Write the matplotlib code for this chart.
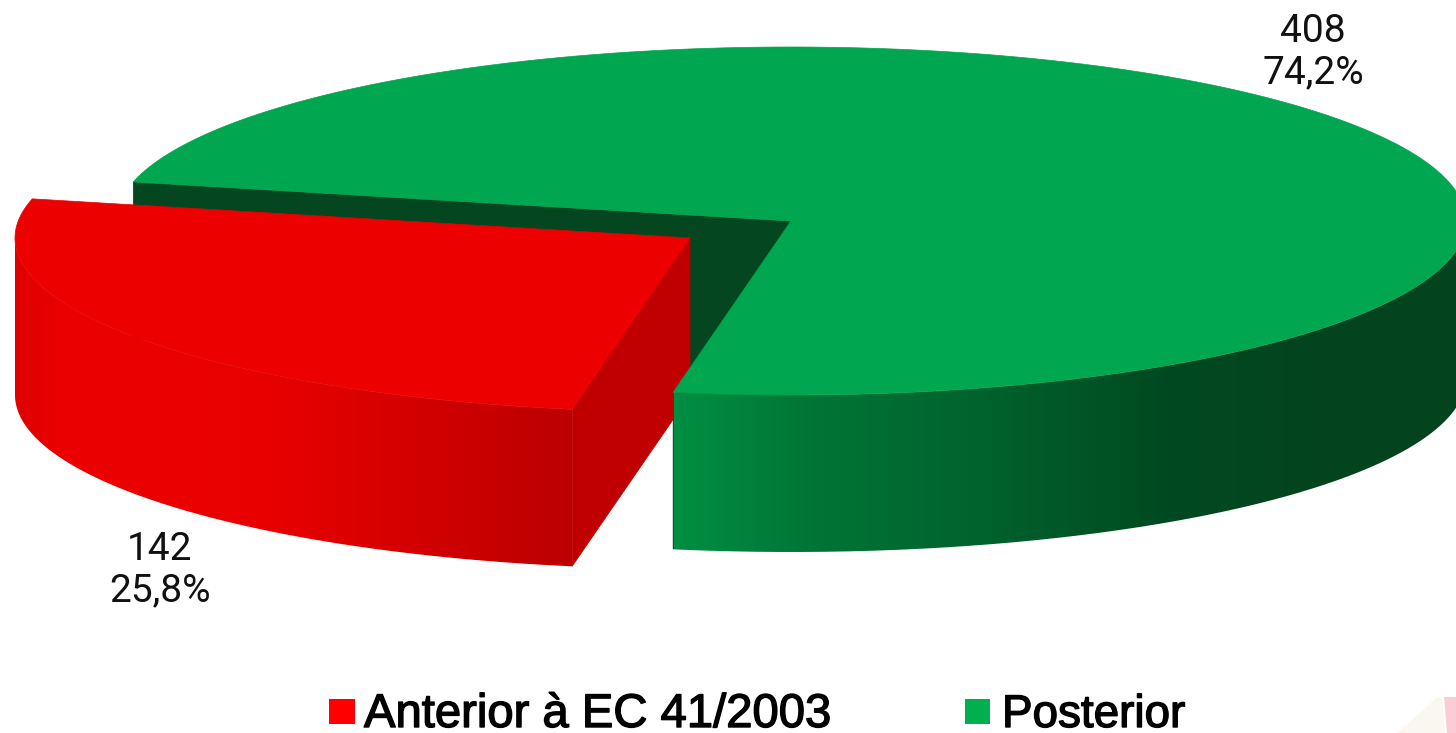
import numpy as np
import matplotlib
matplotlib.use('Agg')
import matplotlib.pyplot as plt
import matplotlib.patheffects as pe
from matplotlib.colors import LinearSegmentedColormap
from matplotlib.patches import PathPatch, Polygon, Rectangle
from matplotlib.path import Path

### data ###
categories = ['Anterior à EC 41/2003', 'Posterior']
counts = [142, 408]

### plotting parameters ###
W, H = 1456, 733
start_angle = 167.0
center_green = (791, 221)
center_red = (690, 238)
rx, ry = 675, 174
depth = 157
col_top = ['#EC0000', '#00A650']
col_leg = ['#FF0000', '#00B050']
col_cut = ['#C00000', '#03461F']
fs_label = 28
fs_leg = 34

plt.rcParams['font.family'] = ['Liberation Sans', 'DejaVu Sans']

### functions ###
def arc(c, a0, a1, dy=0):
	t = np.radians(np.linspace(a0, a1, 300))
	return np.column_stack([c[0] + rx*np.cos(t), c[1] - ry*np.sin(t) + dy])

def sector(c, a0, a1):
	return np.vstack([[c], arc(c, a0, a1)])

def side(c, a0, a1):
	return np.vstack([arc(c, a0, a1), arc(c, a1, a0, depth)])

def grad_side(ax, pts, stops, x0, x1):
	cm = LinearSegmentedColormap.from_list('g', stops)
	img = ax.imshow(np.linspace(0, 1, 512).reshape(1, -1), extent=[x0, x1, H, 0], cmap=cm, aspect='auto', zorder=ax_z[0])
	img.set_clip_path(PathPatch(Path(pts), transform=ax.transData))
	ax_z[0] += 1

def lab(v):
	return '%d\n%s%%' % (v, ('%.1f' % (100*v/total)).replace('.', ','))

### program ###
fig = plt.figure(figsize=(W/100, H/100), dpi=100)
ax = fig.add_axes([0, 0, 1, 1])
ax_z = [1]

total = float(sum(counts))
a_red0 = start_angle
a_red1 = start_angle + 360*counts[0]/total
a_green1 = start_angle + 360

# green cut faces
c = np.array(center_green)
for a in [a_green1, a_red1]:
	p = arc(c, a, a)[0]
	ax.add_patch(Polygon([c, p, p + [0, depth], c + [0, depth]], closed=True, fc=col_cut[1], ec=col_cut[1], lw=0.5, zorder=0.5))

# red slice, the outer wall only starts at the leftmost point of the ellipse
c = np.array(center_red)
p = arc(c, a_red1, a_red1)[0]
grad_side(ax, side(c, 180, a_red1), [(0, '#E00000'), (0.08, '#EA0000'), (0.25, '#EC0000'), (0.455, '#E80000'), (0.59, '#DE0000'), (0.8, '#CC0000'), (1, '#BC0000')], 14, 572)
ax.add_patch(Polygon([c, p, p + [0, depth], c + [0, depth]], closed=True, fc=col_cut[0], ec=col_cut[0], lw=0.5, zorder=ax_z[0]))
ax.add_patch(Polygon(sector(c, a_red0, a_red1), closed=True, fc=col_top[0], ec=col_top[0], lw=0.5, zorder=ax_z[0]+1))
ax_z[0] += 2

# green slice
c = np.array(center_green)
grad_side(ax, side(c, a_red1, 360), [(0, '#008F42'), (0.175, '#007535'), (0.37, '#00642E'), (0.62, '#004A21'), (0.8, '#03441E'), (1, '#03441E')], 674, 1466)
ax.add_patch(Polygon(sector(c, a_red1, a_green1), closed=True, fc=col_top[1], ec=col_top[1], lw=0.5, zorder=ax_z[0]))
ax_z[0] += 1

# data labels
ax.text(160, 570, lab(counts[0]), fontsize=fs_label, family=['Roboto', 'DejaVu Sans'], ha='center', va='center', ma='center', linespacing=1.15, color='#111111', zorder=20)
ax.text(1313, 52, lab(counts[1]), fontsize=fs_label, family=['Roboto', 'DejaVu Sans'], ha='center', va='center', ma='center', linespacing=1.15, color='#111111', zorder=20)

# legend
ax.add_patch(Rectangle((329, 699), 26, 25, fc=col_leg[0], ec='none', zorder=20))
ax.add_patch(Rectangle((965, 699), 25, 25, fc=col_leg[1], ec='none', zorder=20))
heavy = [pe.withStroke(linewidth=1.0, foreground='k')]
ax.text(364, 727, categories[0], fontsize=fs_leg, ha='left', va='baseline', color='k', zorder=20, path_effects=heavy)
ax.text(1002, 727, categories[1], fontsize=fs_leg*0.97, ha='left', va='baseline', color='k', zorder=20, path_effects=heavy)

# leftovers of the slide behind the chart
ax.add_patch(Polygon([(1397, 733), (1438, 697), (1442, 697), (1445, 733)], closed=True, fc='#FAF7F0', ec='none', zorder=0.2))
ax.add_patch(Polygon([(1444, 697), (1456, 697), (1456, 733), (1447, 733)], closed=True, fc='#FACDD6', ec='none', zorder=0.2))

ax.set_xlim(0, W)
ax.set_ylim(H, 0)
ax.axis('off')
plt.savefig('out.png', dpi=100)
plt.close()
